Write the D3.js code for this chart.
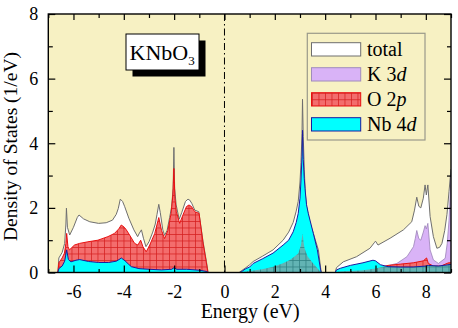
<!DOCTYPE html>
<html>
<head>
    <title>KNbO3 DOS</title>
    <script src="https://d3js.org/d3.v7.min.js"></script>
    <style>
        body { margin: 0; background: #fff; }
        text { font-family: 'Liberation Serif', 'Times New Roman', Times, serif; fill: #000; }
    </style>
</head>
<body>
    <svg id="dos" width="458" height="328"></svg>

    <script>
        // density of states, [energy (eV), states (1/eV)]
        var totalPts = [
            [-6.62,0],[-6.58,0.45],[-6.45,0.62],[-6.35,0.9],[-6.3,1.5],[-6.28,1.99],[-6.24,1.4],[-6.15,1.16],
            [-6.0,1.4],[-5.85,1.7],[-5.78,1.78],[-5.6,1.66],[-5.35,1.57],[-5.0,1.52],[-4.7,1.54],[-4.45,1.62],
            [-4.3,1.8],[-4.22,1.98],[-4.14,2.27],[-4.05,2.2],[-3.97,2.05],[-3.8,1.68],[-3.6,1.32],[-3.45,1.11],
            [-3.38,1.22],[-3.3,1.32],[-3.22,1.06],[-3.12,0.8],[-3.0,0.95],[-2.85,1.25],[-2.75,1.5],[-2.68,1.8],
            [-2.61,2.11],[-2.55,1.85],[-2.45,1.32],[-2.38,1.15],[-2.28,1.3],[-2.18,1.7],[-2.1,2.04],[-2.04,2.6],
            [-2.01,3.87],[-1.98,2.6],[-1.92,2.09],[-1.8,1.65],[-1.7,1.85],[-1.55,2.2],[-1.45,2.27],[-1.38,2.24],
            [-1.3,2.14],[-1.18,1.93],[-1.02,1.88],[-0.85,0.95],[-0.72,0.35],[-0.65,0],
            [0.58,0],[0.65,0.04],[0.85,0.15],[1.0,0.24],[1.14,0.34],[1.5,0.5],[1.93,0.7],[2.33,1.0],[2.55,1.25],
            [2.73,1.55],[2.85,1.9],[2.93,2.2],[3.0,2.8],[3.04,3.4],[3.08,4.3],[3.1,5.36],[3.13,4.2],[3.17,3.2],
            [3.21,2.45],[3.26,2.04],[3.4,1.52],[3.53,1.21],[3.73,0.7],[3.83,0.08],[3.85,0],
            [4.4,0],[4.45,0.15],[4.72,0.33],[5.25,0.49],[5.78,0.75],[5.95,0.92],[6.0,0.97],[6.1,0.85],[6.58,1.06],
            [7.11,1.32],[7.44,1.57],[7.55,1.93],[7.64,2.33],[7.72,2.05],[7.8,2.0],[7.9,2.3],[7.97,2.71],[8.02,2.4],
            [8.08,2.71],[8.17,1.73],[8.3,1.11],[8.44,0.75],[8.55,0.78],[8.64,0.9],[8.75,1.3],[8.84,1.8],[8.92,2.5],
            [9.0,3.2]
        ];

        var k3dPts = [
            [6.0,0],[6.18,0.15],[6.85,0.28],[7.25,0.49],[7.51,0.8],[7.58,1.05],[7.64,1.3],[7.72,1.05],[7.8,1.0],
            [7.9,1.25],[7.97,1.45],[8.02,1.35],[8.08,1.52],[8.17,0.7],[8.3,0.39],[8.5,0.28],[8.77,0.44],[8.85,0.9],
            [8.92,1.6],[9.0,3.0]
        ];

        var o2pPts = [
            [-6.62,0],[-6.58,0.3],[-6.45,0.45],[-6.36,0.6],[-6.3,0.9],[-6.27,1.21],[-6.22,0.8],[-6.16,0.7],
            [-5.96,0.85],[-5.76,0.9],[-5.43,0.95],[-5.03,1.0],[-4.63,1.11],[-4.37,1.21],[-4.2,1.35],[-4.1,1.47],
            [-3.98,1.4],[-3.9,1.32],[-3.77,1.16],[-3.57,0.9],[-3.44,0.85],[-3.33,1.0],[-3.24,0.8],[-3.11,0.64],
            [-2.97,0.85],[-2.77,1.21],[-2.61,1.7],[-2.5,1.3],[-2.38,1.05],[-2.25,1.3],[-2.12,1.83],[-2.05,2.4],
            [-2.01,3.22],[-1.97,2.3],[-1.91,1.88],[-1.78,1.52],[-1.65,1.78],[-1.51,2.04],[-1.41,2.09],[-1.31,2.04],
            [-1.18,1.88],[-1.01,1.83],[-0.85,0.9],[-0.72,0.3],[-0.66,0],
            [0.6,0],[1.0,0.05],[1.5,0.1],[1.93,0.18],[2.3,0.28],[2.6,0.39],[2.93,0.59],[3.04,0.85],[3.08,1.1],
            [3.11,1.2],[3.14,0.95],[3.18,0.75],[3.3,0.5],[3.5,0.3],[3.7,0.12],[3.84,0],
            [4.4,0],[4.6,0.03],[5.0,0.05],[5.5,0.07],[6.0,0.12],[6.5,0.22],[7.0,0.26],[7.5,0.3],[7.9,0.36],
            [8.03,0.45],[8.1,0.28],[8.3,0.2],[8.6,0.2],[8.9,0.3],[9.0,0.3]
        ];

        var nb4dPts = [
            [-6.62,0],[-6.58,0.12],[-6.45,0.2],[-6.35,0.35],[-6.27,0.7],[-6.2,0.4],[-6.1,0.33],[-5.9,0.38],
            [-5.75,0.4],[-5.4,0.34],[-5.0,0.31],[-4.6,0.31],[-4.3,0.35],[-4.15,0.42],[-4.1,0.45],[-3.95,0.36],
            [-3.8,0.25],[-3.7,0.18],[-3.4,0.12],[-3.0,0.1],[-2.5,0.08],[-2.1,0.1],[-2.0,0.15],[-1.9,0.1],
            [-1.5,0.1],[-1.0,0.07],[-0.7,0.03],[-0.65,0],
            [0.6,0],[0.68,0.03],[0.85,0.12],[1.0,0.17],[1.14,0.28],[1.5,0.42],[1.93,0.6],[2.33,0.85],[2.55,1.0],
            [2.73,1.26],[2.85,1.55],[2.93,1.83],[3.0,2.3],[3.04,2.86],[3.08,3.6],[3.1,4.4],[3.13,3.5],[3.17,2.9],
            [3.2,2.6],[3.26,2.1],[3.33,1.83],[3.53,1.21],[3.69,0.7],[3.82,0.08],[3.84,0],
            [4.4,0],[4.45,0.08],[4.6,0.13],[5.0,0.22],[5.5,0.3],[5.9,0.38],[6.0,0.36],[6.2,0.24],[6.5,0.18],
            [7.0,0.17],[7.5,0.17],[8.0,0.2],[8.1,0.22],[8.5,0.2],[9.0,0.25]
        ];

        var xMajor = [-6, -4, -2, 0, 2, 4, 6, 8];
        var xMinor = [-7, -5, -3, -1, 1, 3, 5, 7, 9];
        var yMajor = [0, 2, 4, 6, 8];
        var yMinor = [1, 3, 5, 7];

        var legendNames = ["total", "K 3", "O 2", "Nb 4"];
        var legendItalic = ["", "d", "p", "d"];

        var svg = d3.select("#dos");
        // plot box (window.top is taken, so no bare "top")
        var pL = 48.3, pR = 451, pT = 14, pB = 272.5;

        var x = d3.scaleLinear().domain([-7, 9]).range([pL, pR]);
        var y = d3.scaleLinear().domain([0, 8]).range([pB, pT]);

        // patterns
        var defs = svg.append("defs");
        function gridPattern(id, bg, ln)
        {
            var p = defs.append("pattern").attr("id", id)
                        .attr("patternUnits", "userSpaceOnUse")
                        .attr("width", 6.5).attr("height", 6.5);
            p.append("rect").attr("width", 6.5).attr("height", 6.5).attr("fill", bg);
            p.append("path").attr("d", "M0 0.4H6.5M0.4 0V6.5")
                .attr("stroke", ln).attr("stroke-width", 0.8).attr("fill", "none");
        }
        gridPattern("redgrid", "#f36d6d", "#d42020");
        gridPattern("tealgrid", "#62b4b4", "#2e7f80");

        defs.append("clipPath").attr("id", "plotclip")
            .append("rect").attr("x", pL).attr("y", pT)
            .attr("width", pR - pL).attr("height", pB - pT);

        var area = d3.area()
                     .x(function(d) { return x(d[0]); })
                     .y0(y(0))
                     .y1(function(d) { return y(d[1]); });
        var line = d3.line()
                     .x(function(d) { return x(d[0]); })
                     .y(function(d) { return y(d[1]); });

        // only the conduction band part of Nb 4d, used to clip the O 2p overlap
        defs.append("clipPath").attr("id", "nbclip")
            .append("path")
            .attr("d", area(nb4dPts.filter(function(d) { return d[0] > 0; })));

        // background
        svg.append("rect").attr("x", pL).attr("y", pT)
           .attr("width", pR - pL).attr("height", pB - pT)
           .attr("fill", "#f7f1c3");

        var plot = svg.append("g").attr("clip-path", "url(#plotclip)");

        plot.append("path").attr("d", area(totalPts)).attr("fill", "#fff");
        plot.append("path").attr("d", line(totalPts)).attr("fill", "none")
            .attr("stroke", "#6e6e6e").attr("stroke-width", 1);

        plot.append("path").attr("d", area(k3dPts)).attr("fill", "#d9b3f7");
        plot.append("path").attr("d", line(k3dPts)).attr("fill", "none")
            .attr("stroke", "#9a82b8").attr("stroke-width", 0.8);

        plot.append("path").attr("d", area(o2pPts)).attr("fill", "url(#redgrid)");
        plot.append("path").attr("d", line(o2pPts)).attr("fill", "none")
            .attr("stroke", "#e81010").attr("stroke-width", 1);

        plot.append("path").attr("d", area(nb4dPts)).attr("fill", "#00ffff");

        // O 2p under Nb 4d in the conduction band shows as teal grid
        plot.append("g").attr("clip-path", "url(#nbclip)")
            .append("path").attr("d", area(o2pPts)).attr("fill", "url(#tealgrid)");

        plot.append("path").attr("d", line(nb4dPts)).attr("fill", "none")
            .attr("stroke", "#1a1aa0").attr("stroke-width", 1);

        // Fermi level
        svg.append("line")
           .attr("x1", x(0)).attr("x2", x(0)).attr("y1", pT).attr("y2", pB)
           .attr("stroke", "#000").attr("stroke-width", 1)
           .attr("stroke-dasharray", "7,3,1.5,3");

        // axes, ticks point inward
        function noLabel() { return ""; }
        function lbl(d) { return String(d); }

        svg.append("g").attr("transform", "translate(0," + pB + ")")
           .call(d3.axisBottom(x).tickValues(xMajor).tickSize(-7).tickPadding(13).tickFormat(lbl));
        svg.append("g").attr("transform", "translate(0," + pB + ")")
           .call(d3.axisBottom(x).tickValues(xMinor).tickSize(-3.5).tickFormat(noLabel));
        svg.append("g").attr("transform", "translate(0," + pT + ")")
           .call(d3.axisTop(x).tickValues(xMajor).tickSize(-6).tickFormat(noLabel));
        svg.append("g").attr("transform", "translate(0," + pT + ")")
           .call(d3.axisTop(x).tickValues(xMinor).tickSize(-4).tickFormat(noLabel));

        svg.append("g").attr("transform", "translate(" + pL + ",0)")
           .call(d3.axisLeft(y).tickValues(yMajor).tickSize(-7).tickPadding(10).tickFormat(lbl));
        svg.append("g").attr("transform", "translate(" + pL + ",0)")
           .call(d3.axisLeft(y).tickValues(yMinor).tickSize(-4.5).tickFormat(noLabel));
        svg.append("g").attr("transform", "translate(" + pR + ",0)")
           .call(d3.axisRight(y).tickValues(yMajor).tickSize(-7).tickFormat(noLabel));
        svg.append("g").attr("transform", "translate(" + pR + ",0)")
           .call(d3.axisRight(y).tickValues(yMinor).tickSize(-4).tickFormat(noLabel));

        svg.selectAll(".domain").remove();
        svg.selectAll(".tick line").attr("stroke", "#000").attr("stroke-width", 1.2);
        svg.selectAll(".tick text")
           .style("font-family", "'Liberation Serif', serif")
           .style("font-size", "18px").attr("fill", "#000");

        svg.append("rect").attr("x", pL).attr("y", pT)
           .attr("width", pR - pL).attr("height", pB - pT)
           .attr("fill", "none").attr("stroke", "#000").attr("stroke-width", 1.4);

        // titles
        svg.append("text").attr("x", (pL + pR) / 2 + 0.5).attr("y", 317.5)
           .attr("text-anchor", "middle").style("font-size", "20px")
           .text("Energy (eV)");
        svg.append("text")
           .attr("transform", "translate(16.5,146.5) rotate(-90)")
           .attr("text-anchor", "middle").style("font-size", "19.5px")
           .text("Density of States (1/eV)");

        // compound label with drop shadow
        svg.append("rect").attr("x", 132.5).attr("y", 40.5).attr("width", 73).attr("height", 36).attr("fill", "#000");
        svg.append("rect").attr("x", 126).attr("y", 34).attr("width", 73).attr("height", 36)
           .attr("fill", "#fff").attr("stroke", "#000").attr("stroke-width", 1);
        var lab = svg.append("text").attr("x", 129.5).attr("y", 59.5).style("font-size", "22px");
        lab.append("tspan").text("KNbO");
        lab.append("tspan").attr("dy", 5).style("font-size", "13px").text("3");

        // legend
        var legFills = ["#fff", "#d9b3f7", "url(#redgrid)", "#00ffff"];
        var legStrokes = ["#6e6e6e", "#a08cbc", "#e81010", "#1a1aa0"];

        svg.append("rect").attr("x", 307.3).attr("y", 33.3).attr("width", 117.7).attr("height", 106.7)
           .attr("fill", "#f7f1c3").attr("stroke", "#9a9a8a").attr("stroke-width", 1.2);

        var leg = svg.selectAll(".leg").data(legendNames).enter().append("g")
                     .attr("class", "leg")
                     .attr("transform", function(d, i) { return "translate(0," + (49.3 + i * 25) + ")"; });
        leg.append("rect").attr("x", 311.5).attr("y", -6.6).attr("width", 49.2).attr("height", 13.3)
           .attr("fill", function(d, i) { return legFills[i]; })
           .attr("stroke", function(d, i) { return legStrokes[i]; })
           .attr("stroke-width", 1);
        var lt = leg.append("text").attr("x", 367).attr("y", 7).style("font-size", "20px");
        lt.append("tspan").text(function(d) { return d; });
        lt.append("tspan").style("font-style", "italic").text(function(d, i) { return legendItalic[i]; });
    </script>
</body>
</html>
